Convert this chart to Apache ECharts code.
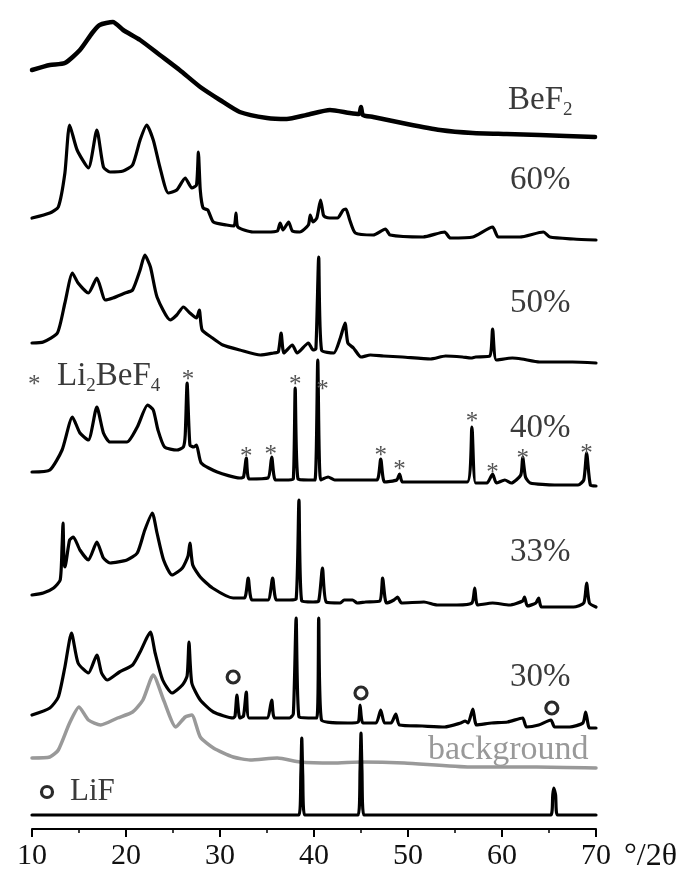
<!DOCTYPE html>
<html><head><meta charset="utf-8">
<script src="https://cdn.jsdelivr.net/npm/echarts@6/dist/echarts.min.js"></script>
<style>html,body{margin:0;padding:0;background:#fff}#c{width:691px;height:876px}</style>
</head><body><div id="c"></div>
<script>
// 2θ tick labels
const xTicks = [10, 20, 30, 40, 50, 60, 70];

// XRD patterns: [2θ, relative intensity]
const bef2 = [[10.0,67],[11.9,72],[13.5,74],[15.1,87],[16.4,104],[17.2,112],[18.6,115],[19.7,107],[21.5,97],[23.6,82],[25.7,67],[27.9,50],[30.0,37],[32.1,25],[35.0,19],[37.1,18],[39.2,22],[41.7,27],[43.8,24],[44.8,23],[45.0,30],[45.2,22],[46.3,20],[49.9,13],[53.4,7],[56.9,4],[60.5,3],[64.0,2],[69.9,0]];

const p60 = [[10.0,22],[11.9,27],[12.8,33],[13.5,67],[14.0,115],[14.8,90],[16.0,72],[16.9,110],[17.6,73],[18.3,68],[19.7,69],[20.7,75],[21.5,100],[22.2,115],[22.9,100],[23.6,73],[24.5,47],[25.4,50],[26.3,62],[27.0,52],[27.5,55],[27.7,88],[27.9,50],[28.2,32],[28.7,30],[29.3,18],[30.7,15],[31.5,14],[31.7,27],[31.9,13],[33.5,8],[35.0,8],[36.1,9],[36.4,17],[36.7,10],[37.3,18],[37.7,9],[38.5,8],[39.4,15],[39.6,25],[39.9,18],[40.3,22],[40.7,40],[41.0,25],[41.2,23],[41.7,22],[42.5,22],[43.1,30],[43.4,31],[43.8,20],[44.4,7],[46.3,5],[47.6,11],[48.1,5],[51.6,3],[53.9,8],[54.5,2],[56.9,3],[59.0,13],[59.6,3],[61.9,3],[64.4,8],[65.1,3],[67.6,1],[70.0,0]];

const p50 = [[10.0,19],[11.2,20],[12.7,29],[13.5,59],[14.3,89],[14.9,79],[16.0,69],[16.9,84],[17.8,62],[18.6,64],[19.9,69],[20.7,72],[21.5,92],[22.0,107],[22.6,95],[23.3,65],[24.7,42],[25.4,47],[26.1,55],[26.8,49],[27.5,44],[27.8,52],[28.1,32],[29.2,24],[30.3,17],[32.1,12],[34.3,7],[35.7,9],[36.2,10],[36.5,29],[36.8,9],[37.7,17],[38.2,9],[39.4,19],[39.9,12],[40.2,13],[40.5,105],[40.8,12],[42.1,9],[42.8,24],[43.3,39],[43.6,19],[44.2,14],[45.0,5],[46.0,7],[47.4,6],[49.4,5],[52.4,3],[54.0,6],[55.8,5],[56.7,4],[57.2,5],[58.7,6],[59.0,33],[59.4,2],[61.1,4],[62.1,3],[64.0,0],[67.5,0],[70.0,-1]];

const p40 = [[10.0,13],[11.9,15],[13.2,35],[14.3,68],[15.1,52],[16.0,45],[16.9,78],[17.6,52],[18.3,43],[20.1,43],[21.2,58],[22.3,80],[22.9,75],[23.4,55],[24.1,38],[25.4,35],[26.1,38],[26.3,50],[26.5,102],[26.8,40],[27.2,38],[27.5,40],[28.0,22],[29.7,13],[32.1,7],[32.5,8],[32.8,27],[33.1,6],[35.1,7],[35.5,28],[35.9,5],[37.3,5],[37.8,6],[38.0,97],[38.3,6],[39.4,5],[40.1,5],[40.4,125],[40.7,5],[41.5,8],[42.2,5],[45.0,5],[46.7,5],[47.1,26],[47.5,3],[48.8,5],[49.1,11],[49.4,3],[51.0,3],[53.2,3],[56.3,3],[56.8,58],[57.2,2],[58.4,2],[59.0,11],[59.4,2],[60.3,5],[61.0,2],[62.0,10],[62.2,28],[62.5,8],[63.0,2],[65.6,0],[68.1,0],[68.7,5],[69.0,32],[69.4,0],[70.0,-1]];

const p33 = [[10.0,11],[11.2,13],[12.3,18],[13.0,26],[13.2,60],[13.3,83],[13.4,45],[13.5,39],[14.0,66],[14.4,69],[15.1,56],[16.0,46],[16.9,64],[17.6,48],[18.3,43],[20.1,46],[21.2,53],[22.0,76],[22.8,93],[23.3,73],[24.0,46],[24.9,31],[26.0,38],[26.6,50],[26.8,63],[27.1,41],[27.9,29],[29.2,18],[31.4,8],[32.6,8],[33.0,28],[33.4,6],[35.1,6],[35.6,28],[36.0,6],[37.4,6],[38.1,7],[38.4,106],[38.7,5],[39.9,4],[40.5,5],[40.9,38],[41.3,4],[42.8,3],[43.2,6],[44.1,6],[44.6,3],[45.5,4],[47.0,5],[47.3,28],[47.7,3],[48.5,6],[48.9,9],[49.3,3],[51.7,4],[53.1,1],[55.2,1],[56.8,3],[57.1,18],[57.4,1],[59.0,3],[60.8,1],[62.2,5],[62.4,9],[62.7,0],[63.6,3],[63.9,8],[64.2,-1],[67.6,-1],[68.7,3],[69.0,23],[69.3,3],[70.0,-1]];

const p30 = [[10.0,11],[11.9,18],[12.8,29],[13.5,59],[14.2,93],[14.9,63],[16.0,53],[16.9,71],[17.4,53],[18.0,46],[19.3,54],[20.7,61],[21.5,74],[22.2,88],[22.6,94],[23.1,73],[23.9,46],[24.9,33],[26.0,41],[26.5,50],[26.7,84],[27.0,43],[27.9,26],[29.3,14],[31.4,8],[31.6,10],[31.8,31],[32.1,8],[32.5,10],[32.8,34],[33.1,8],[35.0,8],[35.5,26],[35.8,8],[37.4,8],[37.8,12],[38.1,108],[38.4,9],[39.4,8],[40.3,8],[40.5,108],[40.8,6],[43.6,3],[44.7,4],[44.9,21],[45.2,3],[46.6,3],[47.1,16],[47.5,3],[48.2,3],[48.7,12],[49.1,1],[51.5,0],[53.9,-1],[55.6,3],[56.1,5],[56.4,3],[56.9,17],[57.3,1],[58.9,3],[60.6,4],[62.2,8],[62.6,-1],[63.9,1],[65.2,6],[65.6,-1],[67.2,-1],[68.6,3],[68.9,14],[69.3,-2],[70.0,-2]];

const bg = [[10.0,9],[11.9,10],[12.8,17],[14.0,44],[15.0,60],[16.0,47],[17.3,42],[19.1,49],[20.7,55],[21.8,67],[22.9,92],[24.0,67],[25.3,40],[26.3,50],[27.0,52],[27.9,30],[29.3,19],[31.4,10],[33.2,7],[36.1,9],[38.5,5],[42.0,4],[45.0,5],[49.6,4],[56.6,0],[63.7,0],[70.0,-1]];

const lif = [[10.0,0],[38.4,0],[38.6,40],[38.7,77],[38.8,40],[39.0,0],[44.7,0],[44.9,45],[45.0,82],[45.1,45],[45.3,0],[65.2,0],[65.4,20],[65.5,27],[65.7,20],[65.9,0],[70.0,0]];

// peak markers: [2θ, height above pattern baseline]
const lifMarks30 = [[31.4,49],[45.0,33],[65.3,18]];
const li2befMarks40 = [[26.6,112],[32.8,35],[35.4,37],[38.0,107],[40.9,102],[47.1,36],[49.1,22],[56.8,70],[59.0,19],[62.2,33],[69.0,38]];

// stacking offsets (vertical shift of each pattern)
const patterns = [
  {name:'BeF2', data:bef2, shift:692, color:'#000', width:4.5},
  {name:'60%', data:p60, shift:589, color:'#000', width:3.2},
  {name:'50%', data:p50, shift:467, color:'#000', width:3.2},
  {name:'40%', data:p40, shift:344, color:'#000', width:3.2},
  {name:'33%', data:p33, shift:223, color:'#000', width:3.2},
  {name:'30%', data:p30, shift:103, color:'#000', width:3.2},
  {name:'background', data:bg, shift:62, color:'#999', width:3.5},
  {name:'LiF', data:lif, shift:14, color:'#000', width:3.2}
];

const FONT = 'Liberation Serif';
const series = patterns.map(p => ({
  type:'line', name:p.name, showSymbol:false, symbol:'none', smooth:0.2, animation:false,
  lineStyle:{color:p.color, width:p.width, join:'round', cap:'round'},
  data:p.data.map(d => [d[0], d[1] + p.shift]), z: p.name==='background'?1:2
}));
series.push({
  type:'scatter', symbol:'circle', symbolSize:12, animation:false, z:5,
  itemStyle:{color:'#fff', borderColor:'#2a2a2a', borderWidth:3.2, opacity:1},
  data: lifMarks30.map(d => [d[0], d[1] + 103])
});
series.push({
  type:'scatter', symbol:'circle', symbolSize:1, animation:false, z:5,
  itemStyle:{color:'transparent', opacity:1},
  label:{show:true, position:'inside', formatter:'*', fontFamily:FONT, fontSize:25, color:'#555', offset:[0,7]},
  data: li2befMarks40.map(d => [d[0], d[1] + 344])
});

const txt = (x, y, text, size, color, rich) => ({
  type:'text', x, y, silent:true,
  style:{text, fill:color||'#3a3a3a', font: size+'px "'+FONT+'"', fontFamily:FONT, fontSize:size, align:'left', verticalAlign:'middle', rich}
});
const subRich = {
  n:{fontFamily:FONT, fontSize:33, lineHeight:40, verticalAlign:'middle', color:'#3a3a3a'},
  s:{fontFamily:FONT, fontSize:19, lineHeight:20, verticalAlign:'bottom', color:'#3a3a3a'}
};

const chart = echarts.init(document.getElementById('c'));
chart.setOption({
  animation:false,
  grid:{left:32, right:95, top:0, bottom:47},
  xAxis:{type:'value', min:10, max:70, interval:10,
    axisLine:{lineStyle:{color:'#000', width:2}},
    axisTick:{show:true, inside:false, length:8, lineStyle:{color:'#000', width:2}},
    minorTick:{show:true, splitNumber:2, length:4, lineStyle:{color:'#000', width:1.5}},
    splitLine:{show:false},
    axisLabel:{fontFamily:FONT, fontSize:30, color:'#111', margin:12,
      formatter: v => xTicks.includes(v) ? String(v) : ''}
  },
  yAxis:{type:'value', min:0, max:829, show:false},
  series,
  graphic:[
    txt(508, 100, '{n|BeF}{s|2}', 33, '#3a3a3a', subRich),
    txt(510, 180, '60%', 33),
    txt(510, 303, '50%', 33),
    txt(510, 428, '40%', 33),
    txt(510, 552, '33%', 33),
    txt(510, 677, '30%', 33),
    txt(428, 750, 'background', 34, '#999'),
    txt(28, 385, '*', 25, '#555'),
    txt(57, 376, '{n|Li}{s|2}{n|BeF}{s|4}', 33, '#3a3a3a', subRich),
    {type:'circle', shape:{cx:47, cy:792, r:5.5}, style:{fill:'none', stroke:'#2a2a2a', lineWidth:3.2}},
    txt(70, 792, 'LiF', 31),
    txt(624, 857, '°/2θ', 32, '#111')
  ]
});
</script></body></html>
